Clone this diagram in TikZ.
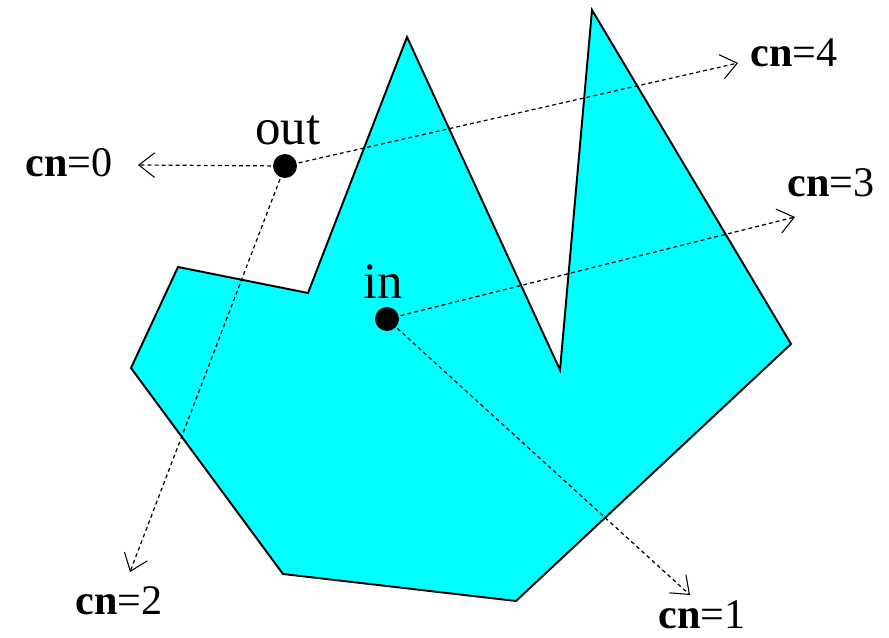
\documentclass[tikz,border=0pt]{standalone}
\usepackage{fontspec}
\setmainfont{Liberation Serif}
\usetikzlibrary{arrows.meta}

\begin{document}
\begin{tikzpicture}[
    x=0.02cm, y=-0.02cm,
    region/.style={draw, line width=1.1pt, fill={rgb,255:red,0;green,255;blue,255}},
    ray/.style={line width=0.7pt, dash pattern=on 2.2pt off 1.8pt,
      -{Straight Barb[length=9pt,width=14pt,line width=0.6pt]}},
    dot/.style={circle, fill, inner sep=0pt, minimum size=0.48cm},
    ptlabel/.style={anchor=base west, inner sep=0pt, font=\fontsize{29}{32}\selectfont},
    cnlabel/.style={anchor=base west, inner sep=0pt, font=\fontsize{24}{28}\selectfont}
  ]
    \useasboundingbox (0,0) rectangle (889,638);
    % the polygon
    \draw[region] (178,267) -- (308,293) -- (407,37) -- (560,370) -- (592,10)
      -- (791,344) -- (516,601) -- (283,574) -- (131,368) -- cycle;
    % test points
    \node[dot] (out) at (285,166) {};
    \node[dot] (in) at (387,319) {};
    \node[ptlabel] (outlabel) at (255,145) {out};
    \node[ptlabel] (inlabel) at (363,299) {in};
    % ray ends
    \coordinate (end0) at (138,165);
    \coordinate (end4) at (738,63);
    \coordinate (end2) at (130,572);
    \coordinate (end3) at (795,217);
    \coordinate (end1) at (690,595);
    \draw[ray] (out.center) -- (end0);
    \draw[ray] (out.center) -- (end4);
    \draw[ray] (out.center) -- (end2);
    \draw[ray] (in.center) -- (end3);
    \draw[ray] (in.center) -- (end1);
    % crossing numbers
    \node[cnlabel] (cn0) at (25,177) {\textbf{cn}=0};
    \node[cnlabel] (cn4) at (750,67) {\textbf{cn}=4};
    \node[cnlabel] (cn3) at (787,197) {\textbf{cn}=3};
    \node[cnlabel] (cn2) at (75,614) {\textbf{cn}=2};
    \node[cnlabel] (cn1) at (658,628) {\textbf{cn}=1};
  \end{tikzpicture}
\end{document}
